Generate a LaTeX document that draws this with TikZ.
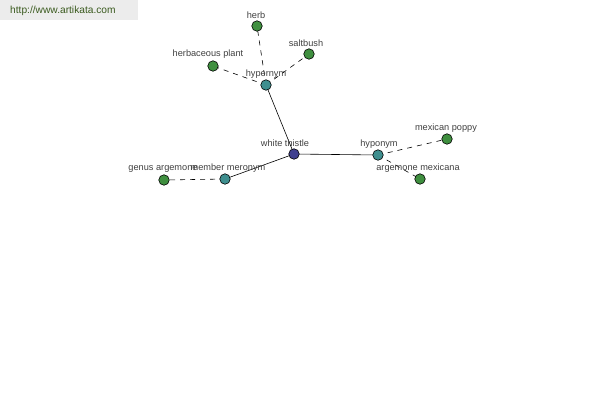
\documentclass[tikz,border=0pt]{standalone}
\usepackage{fontspec}
\setmainfont{Liberation Sans}
\definecolor{leaf}{HTML}{3F8F3F}
\definecolor{tealn}{HTML}{3F8F8F}
\definecolor{bluen}{HTML}{3F3F8F}
\definecolor{lbl}{HTML}{404040}
\definecolor{wm}{HTML}{3A5A1E}
\definecolor{wmbg}{HTML}{ECECEC}
\begin{document}
\begin{tikzpicture}[x=1pt,y=-1pt,
  dot/.style={circle,draw=black,line width=0.6pt,minimum size=10.5pt,inner sep=0pt},
  leafdot/.style={dot,fill=leaf},
  reldot/.style={dot,fill=tealn},
  rootdot/.style={dot,fill=bluen},
  lab/.style={font=\fontsize{9.2}{11}\selectfont,text=lbl,inner sep=0pt},
  solidedge/.style={draw=black,line width=0.6pt},
  dashedge/.style={draw=black,line width=0.6pt,dashed,dash pattern=on 5pt off 5pt}]
\useasboundingbox (0,0) rectangle (600,400);
\fill[wmbg] (0,0) rectangle (138,20);
\node[font=\fontsize{10.2}{12}\selectfont,text=wm,inner sep=0pt,anchor=west] (wmark) at (10,11) {http://www.artikata.com};

% edges first
\coordinate (pWT) at (294,154);
\coordinate (pHyper) at (266,85);
\coordinate (pMero) at (225,179);
\coordinate (pHypo) at (378,155);
\coordinate (pHerb) at (257,26);
\coordinate (pSalt) at (309,54);
\coordinate (pHerbp) at (213,66);
\coordinate (pGenus) at (164,180);
\coordinate (pPoppy) at (447,139);
\coordinate (pArg) at (420,179);

\draw[dashedge] (pHyper) -- (pHerb);
\draw[dashedge] (pHyper) -- (pSalt);
\draw[dashedge] (pHyper) -- (pHerbp);
\draw[dashedge] (pMero) -- (pGenus);
\draw[dashedge] (pHypo) -- (pPoppy);
\draw[dashedge] (pHypo) -- (pArg);
\draw[solidedge] (pWT) -- (pHyper);
\draw[solidedge] (pWT) -- (pMero);
\draw[solidedge] (pWT) -- (pHypo);

% nodes
\node[rootdot] (wt) at (pWT) {};
\node[reldot] (hyper) at (pHyper) {};
\node[reldot] (mero) at (pMero) {};
\node[reldot] (hypo) at (pHypo) {};
\node[leafdot] (herb) at (pHerb) {};
\node[leafdot] (salt) at (pSalt) {};
\node[leafdot] (herbp) at (pHerbp) {};
\node[leafdot] (genus) at (pGenus) {};
\node[leafdot] (poppy) at (pPoppy) {};
\node[leafdot] (arg) at (pArg) {};

% labels
\node[lab] (lwt) at (285,143) {white thistle};
\node[lab] (lhyper) at (266,74) {hypernym};
\node[lab] (lmero) at (228,168) {member meronym};
\node[lab] (lhypo) at (379,144) {hyponym};
\node[lab] (lherb) at (256,15) {herb};
\node[lab] (lsalt) at (306,43) {saltbush};
\node[lab] (lherbp) at (208,54) {herbaceous plant};
\node[lab] (lgenus) at (163,169) {genus argemone};
\node[lab] (lpoppy) at (446,128) {mexican poppy};
\node[lab] (larg) at (418,168) {argemone mexicana};
\end{tikzpicture}
\end{document}
